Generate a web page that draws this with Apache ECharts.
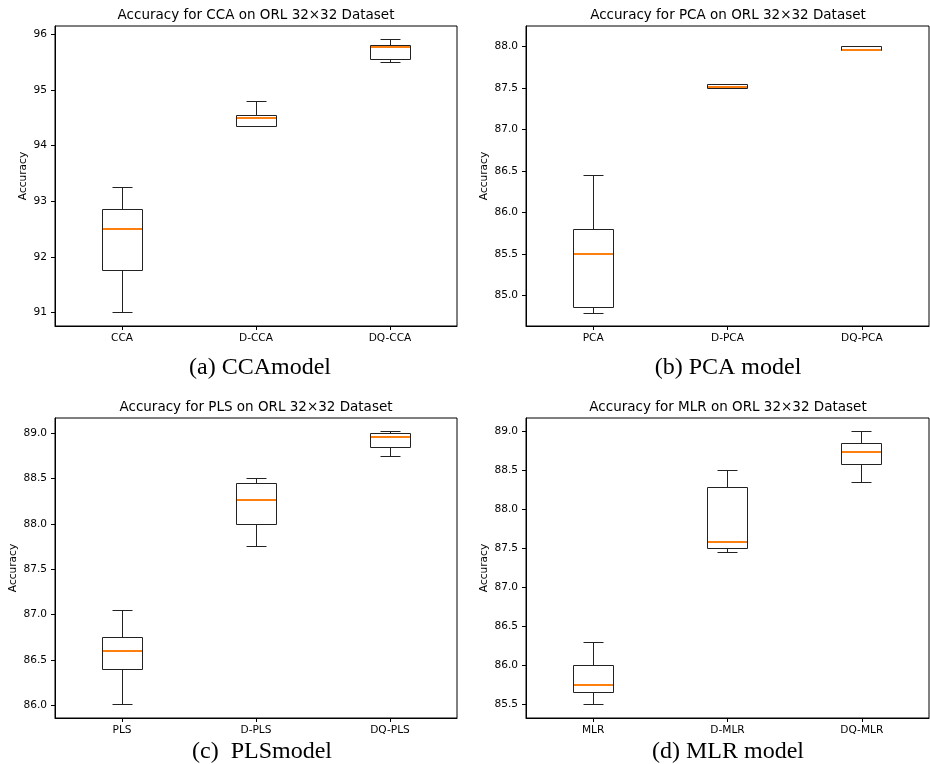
<!DOCTYPE html>
<html>
<head>
<meta charset="utf-8">
<script src="https://cdn.jsdelivr.net/npm/echarts@6/dist/echarts.min.js"></script>
<style>
  html, body { margin: 0; padding: 0; background: #fff; }
  #chart { width: 930px; height: 764px; }
</style>
</head>
<body>
<div id="chart"></div>
<script>
// box stats per category: [low whisker, q1, median, q3, high whisker]
const ccaCats = ['CCA', 'D-CCA', 'DQ-CCA']
const ccaBoxes = [
  [91.0, 91.75, 92.5, 92.85, 93.25],
  [94.35, 94.35, 94.5, 94.55, 94.8],
  [95.5, 95.55, 95.77, 95.8, 95.9]
]
const ccaTicks = [91, 92, 93, 94, 95, 96]

const pcaCats = ['PCA', 'D-PCA', 'DQ-PCA']
const pcaBoxes = [
  [84.78, 84.85, 85.5, 85.8, 86.45],
  [87.5, 87.5, 87.51, 87.55, 87.55],
  [87.95, 87.95, 87.96, 88.0, 88.0]
]
const pcaTicks = [85.0, 85.5, 86.0, 86.5, 87.0, 87.5, 88.0]

const plsCats = ['PLS', 'D-PLS', 'DQ-PLS']
const plsBoxes = [
  [86.01, 86.4, 86.6, 86.75, 87.05],
  [87.75, 88.0, 88.27, 88.45, 88.5],
  [88.75, 88.85, 88.96, 89.0, 89.02]
]
const plsTicks = [86.0, 86.5, 87.0, 87.5, 88.0, 88.5, 89.0]

const mlrCats = ['MLR', 'D-MLR', 'DQ-MLR']
const mlrBoxes = [
  [85.5, 85.65, 85.75, 86.0, 86.3],
  [87.45, 87.5, 87.59, 88.28, 88.5],
  [88.35, 88.58, 88.74, 88.85, 89.0]
]
const mlrTicks = [85.5, 86.0, 86.5, 87.0, 87.5, 88.0, 88.5, 89.0]

const panels = [
  { cats: ccaCats, boxes: ccaBoxes, ticks: ccaTicks, digits: 0, min: 90.76, max: 96.15,
    grid: { left: 55, top: 26, width: 402, height: 300 }, nameGap: 26,
    title: 'Accuracy for CCA on ORL 32×32 Dataset', tx: 256, ty: 15,
    caption: '(a) CCAmodel', cx: 260, cy: 368 },
  { cats: pcaCats, boxes: pcaBoxes, ticks: pcaTicks, digits: 1, min: 84.63, max: 88.25,
    grid: { left: 526, top: 26, width: 403, height: 300 }, nameGap: 36,
    title: 'Accuracy for PCA on ORL 32×32 Dataset', tx: 728, ty: 15,
    caption: '(b) PCA model', cx: 728, cy: 368 },
  { cats: plsCats, boxes: plsBoxes, ticks: plsTicks, digits: 1, min: 85.86, max: 89.17,
    grid: { left: 55, top: 418, width: 402, height: 300 }, nameGap: 36,
    title: 'Accuracy for PLS on ORL 32×32 Dataset', tx: 256, ty: 407,
    caption: '(c)  PLSmodel', cx: 262, cy: 752 },
  { cats: mlrCats, boxes: mlrBoxes, ticks: mlrTicks, digits: 1, min: 85.325, max: 89.175,
    grid: { left: 526, top: 418, width: 403, height: 300 }, nameGap: 36,
    title: 'Accuracy for MLR on ORL 32×32 Dataset', tx: 728, ty: 407,
    caption: '(d) MLR model', cx: 728, cy: 752 }
]

const sans = 'DejaVu Sans'
const lineColor = '#222'

// snap to pixel centre so 1px lines stay crisp
const snap = v => Math.round(v - 0.5) + 0.5

// matplotlib-like box: half-width caps, orange median
function renderBox(params, api) {
  const x = api.value(0)
  const low = api.coord([x, api.value(1)])
  const q1 = api.coord([x, api.value(2)])
  const med = api.coord([x, api.value(3)])
  const q3 = api.coord([x, api.value(4)])
  const high = api.coord([x, api.value(5)])
  const band = api.size([1, 0])[0]
  const bw = Math.round(band * 0.3)
  const cw = Math.round(bw / 2)
  const cx = snap(low[0])
  const yLow = snap(low[1]), yQ1 = snap(q1[1]), yMed = Math.round(med[1])
  const yQ3 = snap(q3[1]), yHigh = snap(high[1])
  const line = (x1, y1, x2, y2, color, w) => ({
    type: 'line',
    shape: { x1: x1, y1: y1, x2: x2, y2: y2 },
    style: { stroke: color || lineColor, lineWidth: w || 1 }
  })
  return {
    type: 'group',
    children: [
      line(cx, yLow, cx, yQ1),
      line(cx, yQ3, cx, yHigh),
      line(cx - cw / 2, yLow, cx + cw / 2, yLow),
      line(cx - cw / 2, yHigh, cx + cw / 2, yHigh),
      {
        type: 'rect',
        shape: { x: cx - bw / 2, y: yQ3, width: bw, height: yQ1 - yQ3 },
        style: { fill: 'none', stroke: lineColor, lineWidth: 1 }
      },
      line(cx - bw / 2 + 0.5, yMed, cx + bw / 2 - 0.5, yMed, '#ff7f0e', 1.8)
    ]
  }
}

const grids = []
const xAxes = []
const yAxes = []
const series = []
const graphics = []

panels.forEach((p, i) => {
  grids.push(Object.assign({ show: true, borderColor: '#000', borderWidth: 1 }, p.grid))
  xAxes.push({
    type: 'category',
    gridIndex: i,
    data: p.cats,
    axisLine: { show: true, lineStyle: { color: '#000', width: 1 } },
    axisTick: { show: true, alignWithLabel: true, length: 4, lineStyle: { color: '#000' } },
    axisLabel: { color: '#000', fontFamily: sans, fontSize: 10.6, margin: 7 },
    splitLine: { show: false }
  })
  yAxes.push({
    type: 'value',
    gridIndex: i,
    min: p.min,
    max: p.max,
    name: 'Accuracy',
    nameLocation: 'middle',
    nameGap: p.nameGap,
    nameTextStyle: { color: '#000', fontFamily: sans, fontSize: 10.6 },
    axisLine: { show: true, lineStyle: { color: '#000', width: 1 } },
    axisTick: { show: true, length: 4, lineStyle: { color: '#000' }, customValues: p.ticks },
    axisLabel: {
      color: '#000', fontFamily: sans, fontSize: 10.6, margin: 8,
      customValues: p.ticks,
      formatter: v => Number(v).toFixed(p.digits)
    },
    splitLine: { show: false }
  })
  series.push({
    type: 'custom',
    xAxisIndex: i,
    yAxisIndex: i,
    renderItem: renderBox,
    data: p.boxes.map((b, k) => [k].concat(b))
  })
  graphics.push({
    type: 'text', x: p.tx, y: p.ty,
    style: { text: p.title, fontFamily: sans, fontSize: 13.5, fill: '#000', align: 'center', verticalAlign: 'middle' }
  })
  graphics.push({
    type: 'text', x: p.cx, y: p.cy,
    style: { text: p.caption, fontFamily: 'Liberation Serif', fontSize: 24, fill: '#000', align: 'center', verticalAlign: 'middle' }
  })
})

const chart = echarts.init(document.getElementById('chart'))
chart.setOption({
  animation: false,
  backgroundColor: '#fff',
  grid: grids,
  xAxis: xAxes,
  yAxis: yAxes,
  series: series,
  graphic: graphics
})
</script>
</body>
</html>
